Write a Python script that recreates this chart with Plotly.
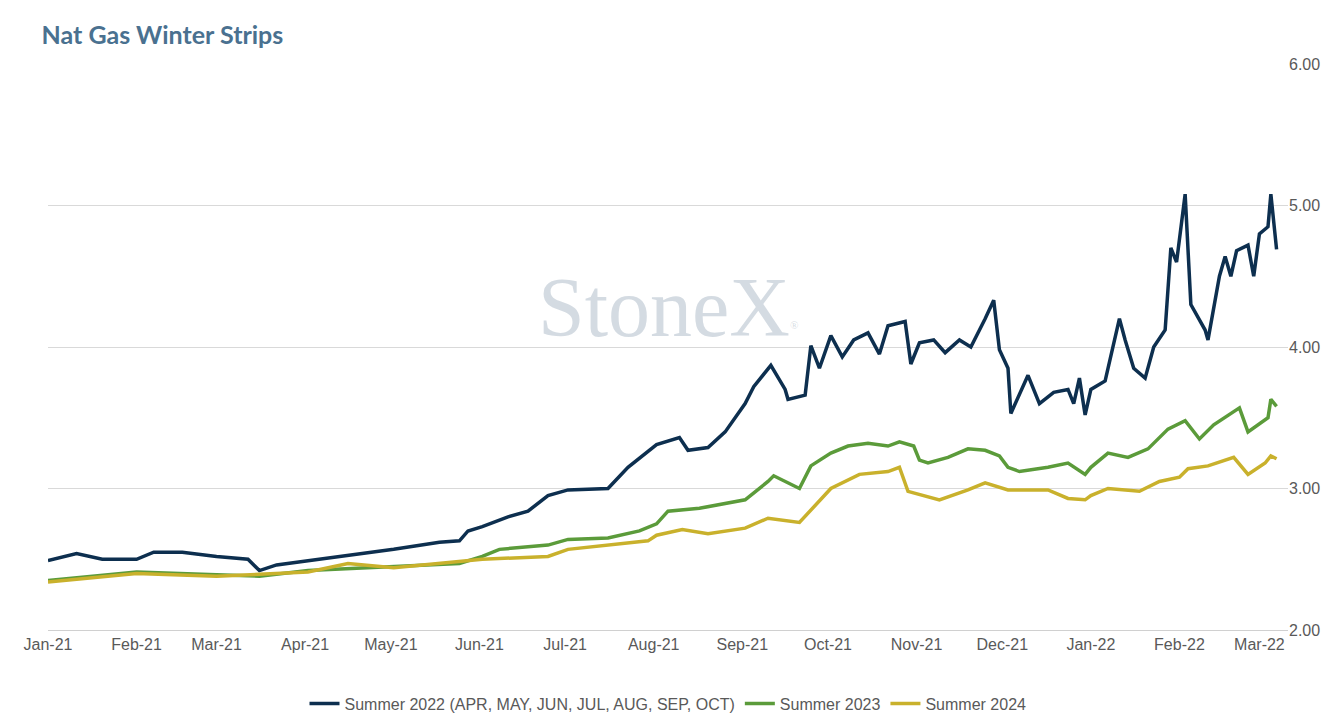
import pandas as pd
import plotly.graph_objects as go

start = pd.Timestamp("2021-01-01")

s22_days = [0, 10, 19, 31, 37, 47, 59, 70, 74, 80, 91, 102, 121, 137, 144, 147, 152, 161, 168, 175,
            182, 196, 203, 213, 221, 224, 231, 237, 244, 247, 253, 258, 259, 265, 267, 270, 274, 278,
            282, 287, 291, 294, 300, 302, 305, 310, 314, 319, 323, 328, 331, 333, 336, 337, 343, 347,
            352, 357, 359, 361, 363, 365, 370, 375, 377, 380, 384, 387, 391, 393, 395, 398, 400, 405,
            406, 410, 412, 414, 416, 420, 422, 424, 427, 428, 430]
s22_vals = [2.49, 2.54, 2.50, 2.50, 2.55, 2.55, 2.52, 2.50, 2.42, 2.46, 2.49, 2.52, 2.57, 2.62, 2.63,
            2.70, 2.73, 2.80, 2.84, 2.95, 2.99, 3.00, 3.15, 3.31, 3.36, 3.27, 3.29, 3.40, 3.60, 3.72,
            3.87, 3.70, 3.63, 3.66, 4.01, 3.85, 4.08, 3.93, 4.05, 4.10, 3.95, 4.15, 4.18, 3.88, 4.03,
            4.05, 3.96, 4.05, 4.00, 4.20, 4.33, 3.98, 3.85, 3.53, 3.80, 3.60, 3.68, 3.70, 3.60, 3.78,
            3.52, 3.70, 3.76, 4.20, 4.05, 3.85, 3.78, 4.00, 4.12, 4.70, 4.60, 5.08, 4.30, 4.12, 4.05,
            4.50, 4.64, 4.50, 4.68, 4.72, 4.50, 4.80, 4.85, 5.08, 4.69]

s23_days = [0, 31, 59, 74, 91, 121, 144, 152, 158, 175, 182, 196, 207, 213, 217, 228, 244, 252, 254,
            263, 267, 274, 280, 287, 294, 298, 303, 305, 308, 315, 322, 328, 333, 336, 340, 350, 357,
            363, 365, 371, 378, 385, 392, 398, 403, 408, 417, 420, 427, 428, 430]
s23_vals = [2.35, 2.41, 2.39, 2.38, 2.42, 2.45, 2.47, 2.52, 2.57, 2.60, 2.64, 2.65, 2.70, 2.75, 2.84,
            2.86, 2.92, 3.05, 3.09, 3.00, 3.16, 3.25, 3.30, 3.32, 3.30, 3.33, 3.30, 3.20, 3.18, 3.22,
            3.28, 3.27, 3.23, 3.15, 3.12, 3.15, 3.18, 3.10, 3.15, 3.25, 3.22, 3.28, 3.42, 3.48, 3.35,
            3.45, 3.57, 3.40, 3.50, 3.63, 3.58]

s24_days = [0, 31, 59, 91, 105, 121, 152, 175, 182, 196, 210, 213, 222, 231, 244, 252, 263, 274, 284,
            294, 298, 301, 305, 312, 322, 328, 336, 350, 357, 363, 365, 371, 382, 389, 396, 399, 406,
            415, 420, 426, 428, 430]
s24_vals = [2.34, 2.40, 2.38, 2.41, 2.47, 2.44, 2.50, 2.52, 2.57, 2.60, 2.63, 2.67, 2.71, 2.68, 2.72,
            2.79, 2.76, 3.00, 3.10, 3.12, 3.15, 2.98, 2.96, 2.92, 2.99, 3.04, 2.99, 2.99, 2.93, 2.92,
            2.95, 3.00, 2.98, 3.05, 3.08, 3.14, 3.16, 3.22, 3.10, 3.18, 3.23, 3.21]

series = [
    ("Summer 2022 (APR, MAY, JUN, JUL, AUG, SEP, OCT)", s22_days, s22_vals, "#0d2f4f"),
    ("Summer 2023", s23_days, s23_vals, "#5b9b3a"),
    ("Summer 2024", s24_days, s24_vals, "#c9b12c"),
]

fig = go.Figure()
for name, days, vals, col in series:
    x = [start + pd.Timedelta(days=d) for d in days]
    fig.add_trace(go.Scatter(x=x, y=vals, name=name, mode="lines",
                             line=dict(color=col, width=3.5)))

fig.add_annotation(text="StoneX<span style='font-size:16px'><sup>®</sup></span>", xref="paper", yref="paper",
                   x=0.5, y=0.57, showarrow=False,
                   font=dict(family="Liberation Serif", size=84, color="rgba(160,175,190,0.45)"))

fig.update_layout(
    width=1344, height=722,
    paper_bgcolor="white", plot_bgcolor="white",
    margin=dict(l=40, r=64, t=56, b=100, autoexpand=False),
    title=dict(text="<b>Nat Gas Winter Strips</b>", x=0.025, y=0.975, xanchor="left",
               font=dict(family="Lato", size=25, color="#4a7190")),
    font=dict(family="Liberation Sans", color="#595959", size=16),
    legend=dict(orientation="h", x=0.5, xanchor="center", y=-0.1, yanchor="top",
                font=dict(size=16)),
    xaxis=dict(range=[start, pd.Timestamp("2022-03-11")], tickformat="%b-%y", dtick="M1",
               tick0="2021-01-01", showgrid=False, showline=True, linecolor="#d0d0d0",
               ticks="", tickfont=dict(size=16)),
    yaxis=dict(range=[2, 6], dtick=1, tickformat=".2f", side="right", gridcolor="#d9d9d9",
               zeroline=False, tickfont=dict(size=16)),
)

fig.write_html("out.html")
